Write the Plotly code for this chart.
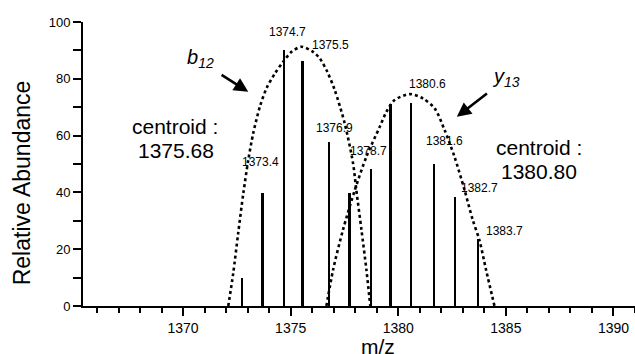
import plotly.graph_objects as go

# ---- data ----
peak_mz = [1372.76, 1373.70, 1374.69, 1375.56, 1376.80, 1377.75,
           1378.75, 1379.66, 1380.60, 1381.66, 1382.66, 1383.72]
peak_abundance = [9.8, 39.9, 90.3, 86.4, 57.6, 39.7,
                  48.1, 71.1, 71.5, 49.9, 38.5, 23.5]

# dotted envelope curves
b12_fit_mz = [1372.10, 1372.33, 1372.56, 1372.80, 1373.03, 1373.26, 1373.57,
              1373.88, 1374.27, 1374.65, 1375.04, 1375.50, 1376.04, 1376.35,
              1376.70, 1377.05, 1377.51, 1377.90, 1378.05, 1378.29, 1378.52,
              1378.70]
b12_fit_ab = [0, 11.5, 25.6, 39.7, 51.4, 60.8, 70.2,
              76.7, 81.9, 86.0, 89.5, 91.3, 89.5, 87.2,
              82.5, 76.0, 64.3, 50.2, 40.8, 26.8, 12.7,
              0]
y13_fit_mz = [1376.66, 1376.97, 1377.43, 1377.98, 1378.52, 1379.14, 1379.45,
              1379.83, 1380.53, 1381.14, 1381.69, 1382.15, 1382.61, 1383.08,
              1383.46, 1383.77, 1384.08, 1384.47]
y13_fit_ab = [0, 12.7, 26.8, 40.8, 52.6, 63.1, 68.4,
              72.5, 74.6, 73.1, 69.6, 62.0, 52.6, 40.8,
              30.3, 23.2, 12.7, 0]

# peak labels (text and anchor in data units)
label_text = ["1373.4", "1374.7", "1375.5", "1376.9", "1378.7",
              "1380.6", "1381.6", "1382.7", "1383.7"]
label_mz = [1373.62, 1374.84, 1376.84, 1377.05, 1378.63,
            1381.36, 1382.15, 1383.77, 1384.93]
label_ab = [50.6, 96.4, 91.9, 62.6, 54.7, 78.2, 58.1, 41.4, 26.5]

x_ticks = [1370, 1375, 1380, 1385, 1390]
y_ticks = [0, 20, 40, 60, 80, 100]

FONT = "Liberation Sans, Arial, Helvetica, sans-serif"

fig = go.Figure()
fig.add_trace(go.Bar(x=peak_mz, y=peak_abundance, width=0.09,
                     marker=dict(color="black", line=dict(width=0)),
                     showlegend=False))
for fx, fy in [(b12_fit_mz, b12_fit_ab), (y13_fit_mz, y13_fit_ab)]:
    fig.add_trace(go.Scatter(x=fx, y=fy, mode="lines",
                             line=dict(color="black", width=2.6, dash="dot",
                                       shape="spline", smoothing=0.8),
                             showlegend=False, hoverinfo="skip"))

ann = []
for t, x, y in zip(label_text, label_mz, label_ab):
    ann.append(dict(x=x, y=y, text=t, showarrow=False, xanchor="center",
                    yanchor="middle", font=dict(size=12, color="black", family=FONT)))

big = dict(size=21, color="black", family=FONT)
ann += [
    dict(x=1369.63, y=63.1, text="centroid :", showarrow=False, font=big),
    dict(x=1369.66, y=54.7, text="1375.68", showarrow=False, font=big),
    dict(x=1386.55, y=55.9, text="centroid :", showarrow=False, font=big),
    dict(x=1386.52, y=47.5, text="1380.80", showarrow=False, font=big),
    dict(x=1370.83, y=87.0, text="<i>b</i><sub><i>12</i></sub>", showarrow=False,
         font=dict(size=20, color="black", family=FONT)),
    dict(x=1385.0, y=80.6, text="<i>y</i><sub><i>13</i></sub>", showarrow=False,
         font=dict(size=20, color="black", family=FONT)),
    # arrows
    dict(x=1373.03, y=75.4, ax=1371.72, ay=81.7, axref="x", ayref="y",
         text="", showarrow=True, arrowhead=2, arrowsize=1.1, arrowwidth=2.6,
         arrowcolor="black"),
    dict(x=1382.72, y=66.6, ax=1384.19, ay=75.2, axref="x", ayref="y",
         text="", showarrow=True, arrowhead=2, arrowsize=1.1, arrowwidth=2.6,
         arrowcolor="black"),
    # axis titles
    dict(xref="paper", yref="paper", x=-0.109, y=0.435, text="Relative Abundance",
         textangle=-90, showarrow=False, xanchor="center", yanchor="middle",
         font=dict(size=23, color="black", family=FONT)),
    dict(xref="paper", yref="paper", x=0.535, y=-0.144, text="m/z",
         showarrow=False, xanchor="center", yanchor="middle",
         font=dict(size=21, color="black", family=FONT)),
]

fig.update_layout(
    width=635, height=354,
    margin=dict(l=83, r=0, t=22, b=48),
    plot_bgcolor="white", paper_bgcolor="white",
    font=dict(family=FONT, color="black"),
    annotations=ann,
    bargap=0,
    xaxis=dict(range=[1365.35, 1391.0], tickvals=x_ticks,
               ticktext=[str(v) for v in x_ticks],
               showgrid=False, zeroline=False, showline=True,
               linecolor="black", linewidth=2,
               ticks="outside", ticklen=8, tickwidth=2, tickcolor="black",
               tickfont=dict(size=14, color="black", family=FONT),
               minor=dict(dtick=1, tick0=1370, ticks="outside", ticklen=5,
                          tickwidth=2, tickcolor="black", showgrid=False)),
    yaxis=dict(range=[0, 100], tickvals=y_ticks,
               ticktext=[str(v) for v in y_ticks],
               showgrid=False, zeroline=False, showline=True,
               linecolor="black", linewidth=2,
               ticks="outside", ticklen=8, tickwidth=2, tickcolor="black",
               tickfont=dict(size=13, color="black", family=FONT),
               minor=dict(dtick=10, tick0=0, ticks="outside", ticklen=8,
                          tickwidth=2, tickcolor="black", showgrid=False)),
)

fig.write_html(
    "out.html",
    config={"displayModeBar": False},
    post_script="document.body.style.margin='0';document.body.style.overflow='hidden';",
)
